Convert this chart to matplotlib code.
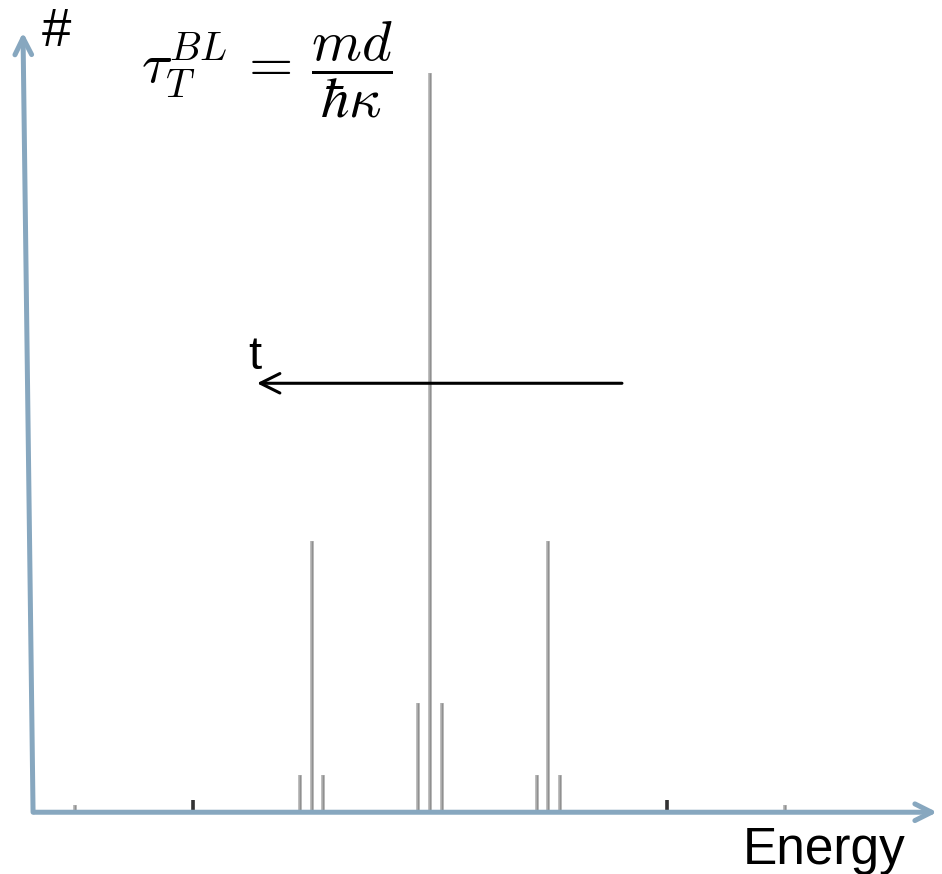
import matplotlib
matplotlib.use("Agg")
from matplotlib import pyplot as plt

plt.rcParams['font.family'] = ['Liberation Sans', 'DejaVu Sans']
plt.rcParams['mathtext.fontset'] = 'cm'

# peak positions (energy units) and heights (relative counts)
energies = [-3.0, -2.0, -1.1, -1.0, -0.9, -0.1, 0.0, 0.1, 0.9, 1.0, 1.1, 2.0, 3.0]
heights = [0.007, 0.014, 0.047, 0.365, 0.047, 0.145, 1.0, 0.145, 0.047, 0.365, 0.047, 0.014, 0.007]
dark_peaks = [-2.0, 2.0]

axis_color = '#87a7bf'

fig = plt.figure(figsize=(9.42, 8.74), dpi=100)
ax = fig.add_axes([0, 0, 1, 1])
ax.set_xlim(-3.629, 4.321)
ax.set_ylim(-0.0868, 1.099)
ax.axis('off')

# spectrum lines
for e, h in zip(energies, heights):
    c = '#333333' if e in dark_peaks else '#b0b0b0'
    ax.vlines(e, 0, h, color=c, lw=2.6, zorder=2)
    ax.vlines(e, 0, h, color='#909090' if c != '#333333' else c, lw=0.9, zorder=3)

# axes arrows
ax.annotate('', xy=(4.28, -0.003), xytext=(-3.34, -0.003),
            arrowprops=dict(arrowstyle='->', lw=3.6, color=axis_color, mutation_scale=30,
                            shrinkA=0, shrinkB=0), zorder=4)
ax.annotate('', xy=(-3.435, 1.055), xytext=(-3.35, -0.003),
            arrowprops=dict(arrowstyle='->', lw=3.6, color=axis_color, mutation_scale=30,
                            shrinkA=0, shrinkB=0), zorder=4)

ax.text(-3.28, 1.055, '#', fontsize=38, ha='left', va='center')
ax.text(3.33, -0.055, 'Energy', fontsize=37, ha='center', va='center')

# time arrow
ax.annotate('', xy=(-1.46, 0.579), xytext=(1.62, 0.579),
            arrowprops=dict(arrowstyle='->', lw=2.2, color='black', mutation_scale=35,
                            shrinkA=0, shrinkB=0))
ax.text(-1.53, 0.614, 't', fontsize=34, ha='left', va='center')

ax.text(-1.375, 1.005, r'$\tau_T^{BL}\,=\,\dfrac{md}{\hbar\kappa}$', fontsize=41,
        ha='center', va='center')

fig.savefig('out.png', dpi=100)
